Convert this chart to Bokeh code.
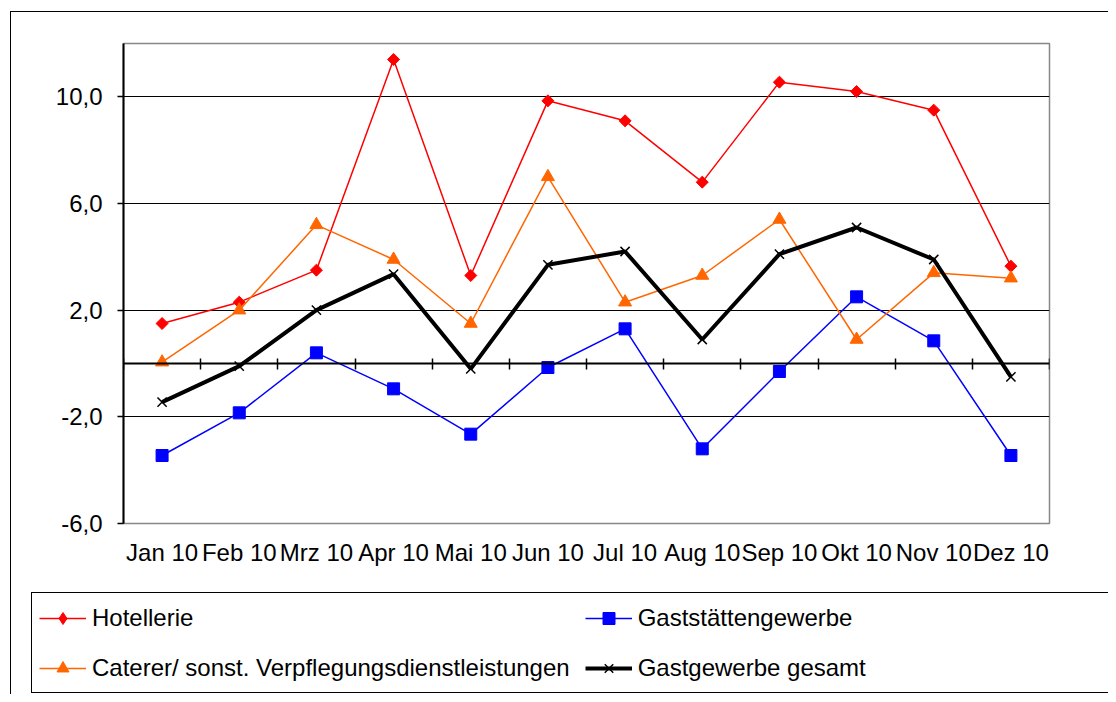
import numpy as np
from bokeh.plotting import figure
from bokeh.layouts import column
from bokeh.models import (Range1d, LinearAxis, FixedTicker,
                          CustomJSTickFormatter, Legend, LegendItem, InlineStyleSheet)
from bokeh.embed import file_html
from bokeh.resources import INLINE

months = ["Jan 10", "Feb 10", "Mrz 10", "Apr 10", "Mai 10", "Jun 10",
          "Jul 10", "Aug 10", "Sep 10", "Okt 10", "Nov 10", "Dez 10"]
hotellerie = [1.5, 2.3, 3.5, 11.4, 3.3, 9.85, 9.1, 6.8, 10.55, 10.2, 9.5, 3.65]
gaststaetten = [-3.45, -1.85, 0.4, -0.95, -2.65, -0.15, 1.3, -3.2, -0.3, 2.5, 0.85, -3.45]
caterer = [0.05, 2.0, 5.2, 3.9, 1.5, 7.0, 2.3, 3.3, 5.4, 0.9, 3.4, 3.2]
gesamt = [-1.45, -0.1, 2.0, 3.35, -0.2, 3.7, 4.2, 0.9, 4.1, 5.1, 3.9, -0.5]
y_ticks = [-6, -2, 2, 6, 10]
grid_ticks = [-2, 2, 6, 10]
labels = ["Hotellerie", "Gaststättengewerbe",
          "Caterer/ sonst. Verpflegungsdienstleistungen", "Gastgewerbe gesamt"]

FONT = "Liberation Sans"
FS = "24px"

n = len(months)
xc = np.arange(n) + 0.5          # category centres on the numeric x scale

styles = [
    dict(line_color="#FF0000", line_width=1.5, marker="square", angle=np.pi / 4, size=8.5,
         fill_color="#FF0000", mline_color="#FF0000", mline_width=1, lmarker="diamond"),
    dict(line_color="#0000FF", line_width=1.5, marker="square", angle=0, size=12,
         fill_color="#0000FF", mline_color="#0000FF", mline_width=1, lmarker="square"),
    dict(line_color="#FF6600", line_width=1.5, marker="triangle", angle=0, size=13,
         fill_color="#FF6600", mline_color="#FF6600", mline_width=1, lmarker="triangle"),
    dict(line_color="black", line_width=4, marker="x", angle=0, size=13,
         fill_color=None, mline_color="black", mline_width=1.5, lmarker="x"),
]
series = [hotellerie, gaststaetten, caterer, gesamt]

p = figure(width=1108, height=585, x_range=Range1d(0, n),
           y_range=Range1d(-6, 12), output_backend="svg", toolbar_location=None,
           x_axis_type=None,
           min_border_left=123, min_border_right=59, min_border_top=43,
           min_border_bottom=62)

p.outline_line_color = "#888888"
p.outline_line_width = 1.5
p.ygrid.ticker = FixedTicker(ticks=grid_ticks)
p.ygrid.grid_line_color = "black"
p.ygrid.grid_line_width = 1.2

# y axis
ya = p.yaxis[0]
ya.ticker = FixedTicker(ticks=y_ticks)
ya.formatter = CustomJSTickFormatter(code="return tick.toFixed(1).replace('.', ',');")
ya.axis_line_color = "black"
ya.axis_line_width = 2
ya.major_tick_out = 6
ya.major_tick_in = 0
ya.major_tick_line_width = 1.5
ya.minor_tick_line_color = None
ya.major_label_text_font = FONT
ya.major_label_text_font_size = FS
ya.major_label_text_color = "black"
ya.major_label_standoff = 15

# x axis with month labels at category centres
xa = LinearAxis(ticker=FixedTicker(ticks=list(xc)),
                formatter=CustomJSTickFormatter(args=dict(months=months),
                                                code="return months[Math.floor(tick)];"),
                axis_line_color=None, major_tick_line_color=None,
                major_tick_in=0, major_tick_out=0, minor_tick_line_color=None,
                major_label_text_font=FONT, major_label_text_font_size=FS,
                major_label_text_color="black", major_label_standoff=15)
p.add_layout(xa, "below")

# zero line axis with ticks between categories
za = LinearAxis(fixed_location=0,
                ticker=FixedTicker(ticks=list(range(n + 1))),
                axis_line_width=2, axis_line_color="black",
                major_tick_in=5, major_tick_out=6, major_tick_line_width=1.5,
                minor_tick_line_color=None, major_label_text_color=None,
                major_label_text_font_size="1px")
p.add_layout(za, "below")

for ys, st in zip(series, styles):
    p.line(xc, ys, line_color=st["line_color"], line_width=st["line_width"])
    p.scatter(xc, ys, marker=st["marker"], angle=st["angle"], size=st["size"],
              fill_color=st["fill_color"], line_color=st["mline_color"],
              line_width=st["mline_width"])

# legend panel: a separate figure below the chart whose renderers repeat the
# series with the same styles (their data lies outside this panel's ranges)
q = figure(width=1108, height=109, output_backend="svg", toolbar_location=None,
           x_axis_type=None, y_axis_type=None,
           x_range=Range1d(n + 1, n + 2), y_range=Range1d(-6, 12),
           min_border=0, min_border_left=0, min_border_right=0,
           min_border_top=0, min_border_bottom=0)
q.frame_align = False
q.outline_line_color = None
q.xgrid.visible = False
q.ygrid.visible = False
items = {}
for lab, ys, st in zip(labels, series, styles):
    lr = q.line(xc, ys, line_color=st["line_color"], line_width=st["line_width"])
    sr = q.scatter(xc, ys, marker=st["lmarker"], size=st["size"],
                   fill_color=st["fill_color"], line_color=st["mline_color"],
                   line_width=st["mline_width"])
    items[lab] = LegendItem(label=lab, renderers=[lr, sr])

# column-major fill: column 1 = Hotellerie, Caterer; column 2 = Gaststätten, Gesamt
order = [labels[0], labels[2], labels[1], labels[3]]
legend = Legend(items=[items[k] for k in order], location=(31, 1),
                orientation="vertical", ncols=2,
                border_line_color="black", border_line_width=1.5, border_line_alpha=1.0,
                background_fill_color="white", background_fill_alpha=1.0,
                padding=7, spacing=15, margin=0,
                glyph_width=47, glyph_height=30, label_height=35, label_width=470,
                label_standoff=6, label_text_font=FONT, label_text_font_size=FS,
                label_text_color="black")
q.add_layout(legend, "center")

layout = column(p, q, spacing=0)
layout.stylesheets = [InlineStyleSheet(css="""
:host { position: relative; }
:host::after { content: ""; position: absolute; left: 10px; top: 11px; right: 0; bottom: 0;
  border-left: 1.5px solid #000; border-top: 1.5px solid #000; pointer-events: none; }
""")]

open("out.html", "w").write(file_html(layout, INLINE))
